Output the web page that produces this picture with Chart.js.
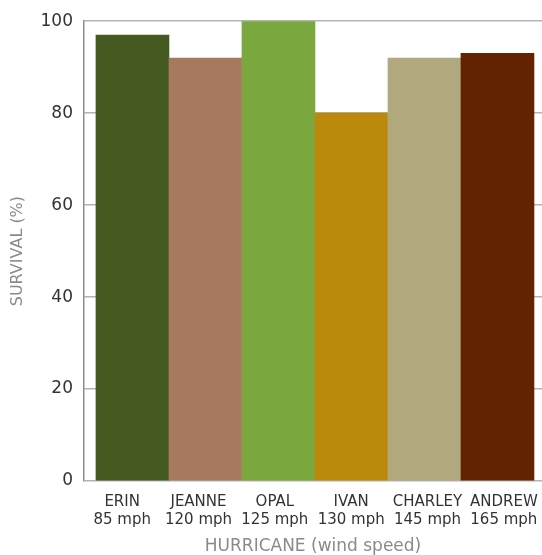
<!DOCTYPE html>
<html lang="en">
  <head>
    <meta charset="UTF-8">
    <title>Hurricane survival</title>
    <script src="https://cdn.jsdelivr.net/npm/chart.js"></script>
    <style>
      html, body { margin: 0; padding: 0; background: #fff; }
    </style>
  </head>
  <body>
  <canvas id="chart" width="542" height="555"></canvas>
    <script>
    const hurricanes = ['ERIN', 'JEANNE', 'OPAL', 'IVAN', 'CHARLEY', 'ANDREW'];
    const windSpeeds = ['85 mph', '120 mph', '125 mph', '130 mph', '145 mph', '165 mph'];
    const survival = [97, 92, 100, 80, 92, 93];
    const barColors = ['#445a21', '#a77a5f', '#7ba73f', '#bb8a0b', '#b1a97d', '#632300'];
    const yTicks = [0, 20, 40, 60, 80, 100];

    const labels = hurricanes.map((h, i) => [h, windSpeeds[i]]);
    const points = survival.map((v, i) => ({ x: i, y: v }));

    const ctx = document.getElementById('chart').getContext('2d');
    new Chart(ctx, {
      type: 'bar',
      data: {
        datasets: [{
          data: points,
          xAxisID: 'xb',
          backgroundColor: barColors,
          borderWidth: 0,
          barPercentage: 1,
          categoryPercentage: 1,
        }]
      },
      options: {
        responsive: false,
        animation: false,
        layout: { padding: { top: 21, right: 0, bottom: 0, left: 0 } },
        plugins: {
          legend: { display: false },
          tooltip: { enabled: false }
        },
        scales: {
          x: {
            type: 'category',
            labels: labels,
            offset: true,
            grid: { display: false },
            border: { display: false },
            ticks: {
              color: '#333',
              font: { family: 'DejaVu Sans', size: 15 },
              padding: 4,
              maxRotation: 0,
              autoSkip: false
            },
            title: {
              display: true,
              text: 'HURRICANE (wind speed)',
              color: '#8a8a8a',
              font: { family: 'DejaVu Sans', size: 17 },
              padding: { top: 4, bottom: -2 }
            },
            afterFit: s => { s.height = 74; s.paddingLeft = 0; s.paddingRight = 0; }
          },
          xb: {
            type: 'linear',
            display: false,
            offset: false,
            min: -0.664,
            max: 5.61,
            ticks: { stepSize: 1, includeBounds: false }
          },
          y: {
            min: 0,
            max: 100,
            afterBuildTicks: s => { s.ticks = yTicks.map(v => ({ value: v })); },
            grid: { color: '#b3b3b3', lineWidth: 1.5, drawTicks: false },
            border: { display: true, color: '#8c8c8c', width: 1.5 },
            ticks: {
              color: '#333',
              font: { family: 'DejaVu Sans', size: 17 },
              padding: 11
            },
            title: {
              display: true,
              text: 'SURVIVAL (%)',
              color: '#8a8a8a',
              font: { family: 'DejaVu Sans', size: 16 },
              padding: { top: 8, bottom: 0 }
            },
            afterFit: s => { s.width = 84; }
          }
        }
      }
    });
    </script>
  </body>
</html>
